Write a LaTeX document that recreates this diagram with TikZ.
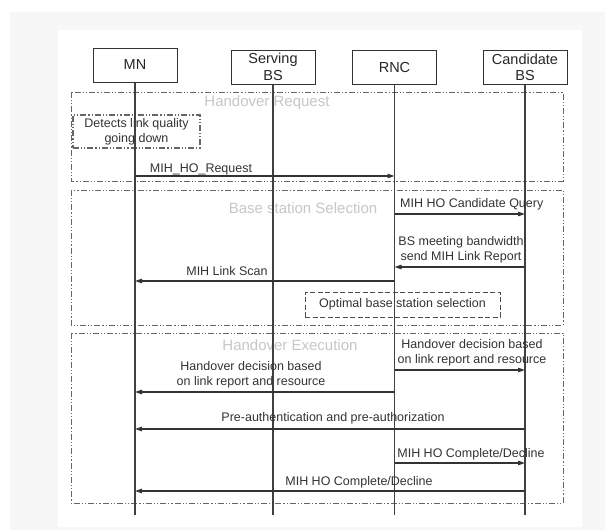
\documentclass[tikz,border=0pt]{standalone}
\usepackage{fontspec}
\setmainfont{Liberation Sans}
\usetikzlibrary{arrows.meta}
\begin{document}
\begin{tikzpicture}[x=1pt,y=-1pt,
  actor/.style={draw=black!80, line width=1pt, minimum width=84pt, minimum height=34pt, inner sep=0pt, align=center, font=\fontsize{14.5}{16.5}\selectfont, text=black!85},
  life/.style={draw=black!75, line width=1.1pt},
  msg/.style={draw=black!80, line width=1.1pt, -{Triangle[length=7pt,width=4.5pt]}},
  lbl/.style={font=\fontsize{12.5}{14.5}\selectfont, text=black!80, inner sep=0pt, align=center},
  frm/.style={draw=black!60, line width=1pt, dash pattern=on 6pt off 2pt on 1.2pt off 2pt on 1.2pt off 2pt},
  ttl/.style={font=\fontsize{15}{17}\selectfont, text=black!22, inner sep=0pt},
  notebox/.style={draw=black!70, line width=1pt, inner sep=0pt, align=center, font=\fontsize{12.5}{15}\selectfont, text=black!80}
]
\useasboundingbox (0,0) rectangle (614,530);
\fill[white] (0,0) rectangle (614,530);
\fill[black!3] (10,12) rectangle (605,530);
\fill[white] (58,30) rectangle (582,527);

% frames
\draw[frm] (71,92) rectangle (563,181);
\draw[frm] (71,190) rectangle (563,325);
\draw[frm] (71,333) rectangle (563,503);
\node[ttl] (t1) at (267,103) {Handover Request};
\node[ttl] (t2) at (303,208) {Base station Selection};
\node[ttl] (t3) at (290,345) {Handover Execution};

% actors
\node[actor] (MN) at (135,65) {MN};
\node[actor] (SBS) at (273,67) {Serving\\BS};
\node[actor] (RNC) at (394.5,67.5) {RNC};
\node[actor] (CBS) at (525,67.5) {Candidate\\BS};

% notes
\node[notebox, frm, line width=1.1pt, minimum width=127pt, minimum height=33pt] (det) at (136.5,131.5) {Detects link quality\\going down};
\node[notebox, dashed, dash pattern=on 5pt off 2.5pt, minimum width=195pt, minimum height=25pt] (opt) at (402.5,304.5) {Optimal base station selection};

% lifelines
\coordinate (MNe) at (MN |- 0,515);
\coordinate (SBSe) at (SBS |- 0,515);
\coordinate (RNCe) at (RNC |- 0,515);
\coordinate (CBSe) at (CBS |- 0,515);
\draw[life] (MN.south) -- (MNe);
\draw[life] (SBS.south) -- (SBSe);
\draw[life] (RNC.south) -- (RNCe);
\draw[life] (CBS.south) -- (CBSe);

% messages
\draw[msg] (MN |- 0,176) -- (RNC |- 0,176);
\node[lbl] (l1) at (201,169) {MIH\_HO\_Request};

\draw[msg] (RNC |- 0,214) -- (CBS |- 0,214);
\node[lbl, anchor=west] (l2) at (400,204) {MIH HO Candidate Query};

\draw[msg] (CBS |- 0,267) -- (RNC |- 0,267);
\node[lbl] (l3) at (461,250) {BS meeting bandwidth\\send MIH Link Report};

\draw[msg] (RNC |- 0,281) -- (MN |- 0,281);
\node[lbl] (l4) at (227,271) {MIH Link Scan};

\draw[msg] (RNC |- 0,370) -- (CBS |- 0,370);
\node[lbl] (l5) at (472,353) {Handover decision based\\on link report and resource};

\draw[msg] (RNC |- 0,392) -- (MN |- 0,392);
\node[lbl] (l6) at (251,375) {Handover decision based\\on link report and resource};

\draw[msg] (CBS |- 0,429) -- (MN |- 0,429);
\node[lbl] (l7) at (333,418) {Pre-authentication and pre-authorization};

\draw[msg] (RNC |- 0,463) -- (CBS |- 0,463);
\node[lbl] (l8) at (471,454) {MIH HO Complete/Decline};

\draw[msg] (CBS |- 0,491) -- (MN |- 0,491);
\node[lbl] (l9) at (359,482) {MIH HO Complete/Decline};
\end{tikzpicture}
\end{document}
